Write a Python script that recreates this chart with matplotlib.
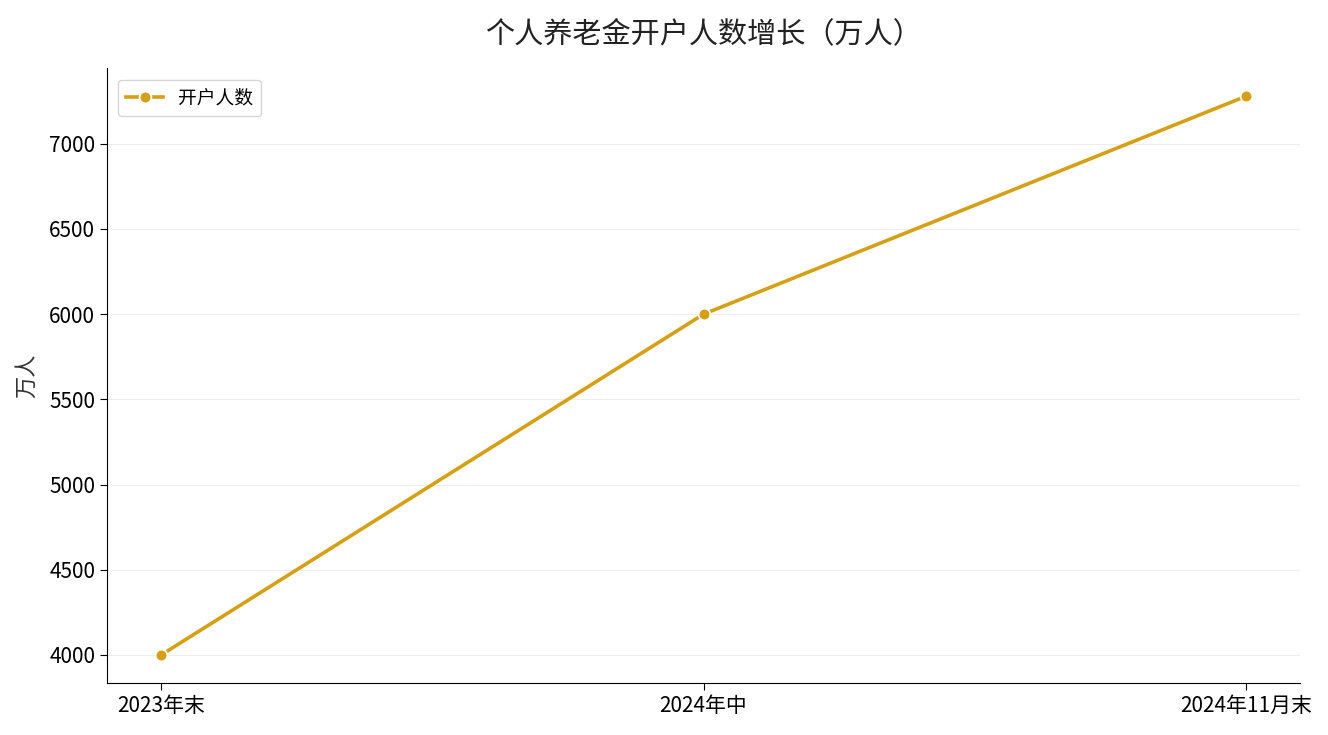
import matplotlib
matplotlib.use("Agg")
import matplotlib.pyplot as plt

plt.rcParams['font.family'] = ['Noto Sans CJK SC', 'DejaVu Sans']

categories = ["2023年末", "2024年中", "2024年11月末"]
accounts = [4000, 6000, 7279]
series_name = "开户人数"

fig, ax = plt.subplots(figsize=(13.28, 7.35), dpi=100)
fig.subplots_adjust(left=0.0806, right=0.979, top=0.907, bottom=0.071)

color = "#D4A017"
ax.plot(categories, accounts, color=color, linewidth=2.6, marker='o', markersize=8.5,
        markeredgecolor='white', markeredgewidth=1.3, label=series_name)

ax.set_title("个人养老金开户人数增长（万人）", fontsize=21, pad=19, color="#222222")
ax.set_ylabel("万人", fontsize=16, color="#333333", labelpad=8)
ax.tick_params(axis='both', labelsize=15, length=5)
ax.grid(axis='y', color='#eeeeee', linewidth=0.8)
ax.set_axisbelow(True)
for s in ['top', 'right']:
    ax.spines[s].set_visible(False)
ax.legend(loc='upper left', fontsize=13.5, frameon=True, borderaxespad=0.6)

fig.savefig("out.png", dpi=100)
